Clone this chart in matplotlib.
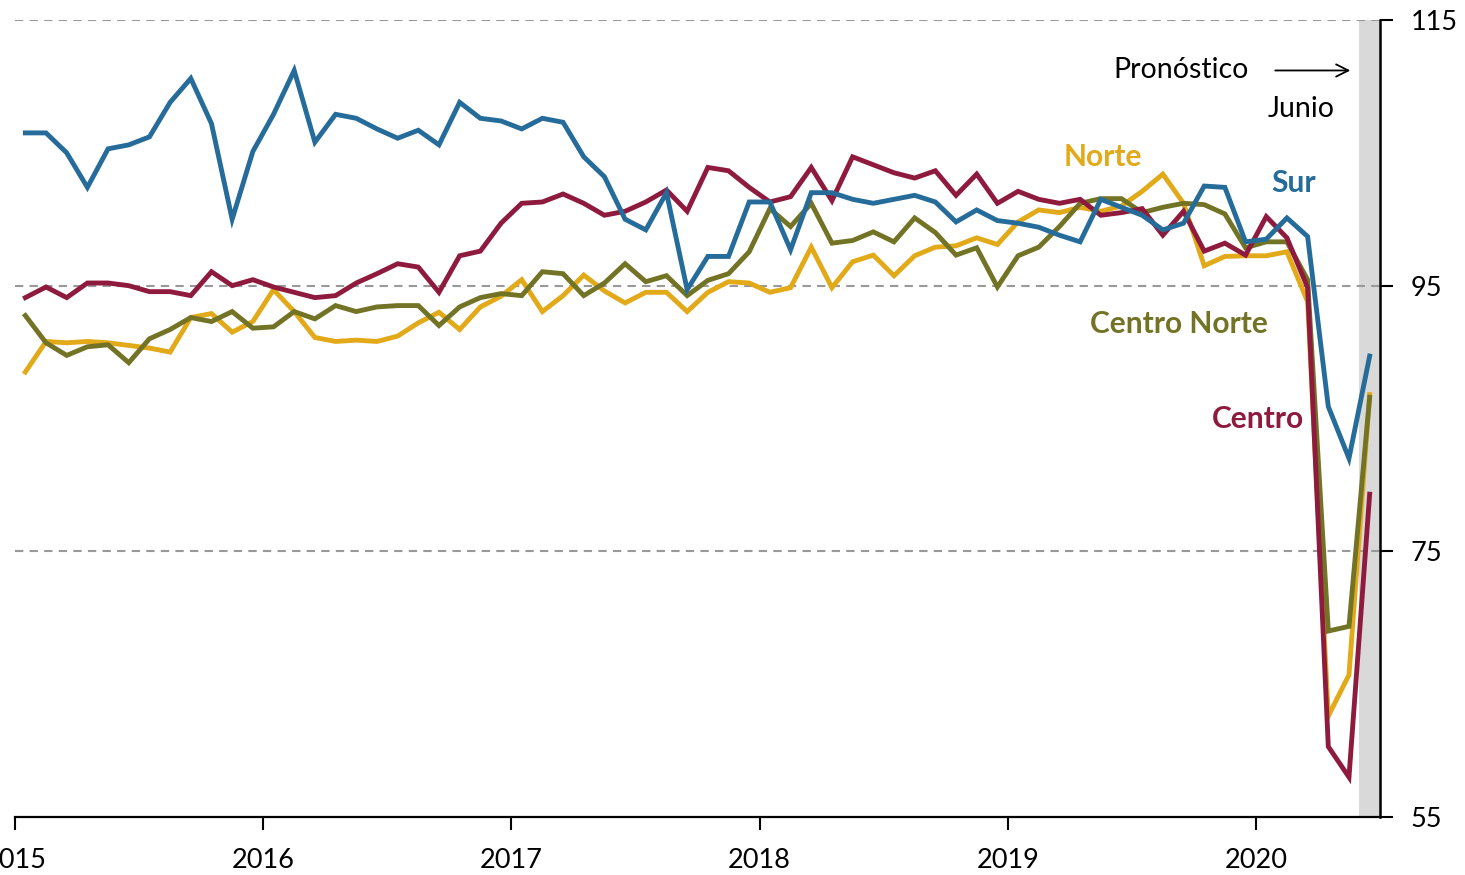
import numpy as np
import matplotlib
matplotlib.use("Agg")
import matplotlib.pyplot as plt

# ---- data (monthly index, Jan 2015 - Jun 2020) ----
years = ['2015', '2016', '2017', '2018', '2019', '2020']

sur = [106.5, 106.5, 105.0, 102.4, 105.3, 105.6, 106.2, 108.8, 110.6, 107.2, 100.0, 105.1,
       107.9, 111.2, 105.8, 107.9, 107.6, 106.8, 106.1, 106.7, 105.6, 108.8, 107.6, 107.4,
       106.8, 107.6, 107.3, 104.7, 103.2, 100.0, 99.2, 102.0, 94.7, 97.2, 97.2, 101.3,
       101.3, 97.7, 102.0, 102.0, 101.5, 101.2, 101.5, 101.8, 101.3, 99.8, 100.7, 99.9,
       99.7, 99.4, 98.8, 98.3, 101.5, 100.9, 100.3, 99.2, 99.7, 102.5, 102.4, 98.3,
       98.5, 100.1, 98.7, 85.9, 82.0, 89.7]

centro = [94.1, 94.9, 94.1, 95.2, 95.2, 95.0, 94.55, 94.55, 94.25, 96.05, 95.0, 95.45,
          94.9, 94.5, 94.1, 94.25, 95.2, 95.9, 96.65, 96.4, 94.5, 97.25, 97.6, 99.7,
          101.2, 101.3, 101.9, 101.2, 100.3, 100.6, 101.3, 102.2, 100.6, 103.9, 103.65, 102.4,
          101.3, 101.7, 103.9, 101.4, 104.7, 104.1, 103.5, 103.1, 103.65, 101.8, 103.4, 101.2,
          102.1, 101.5, 101.2, 101.5, 100.3, 100.5, 100.8, 98.8, 100.6, 97.6, 98.2, 97.3,
          100.2, 98.6, 94.85, 60.3, 58.0, 79.3]

norte = [88.5, 90.8, 90.7, 90.8, 90.7, 90.5, 90.3, 90.0, 92.6, 92.9, 91.5, 92.3,
         94.7, 93.05, 91.1, 90.8, 90.9, 90.8, 91.2, 92.2, 93.0, 91.7, 93.4, 94.2,
         95.45, 93.05, 94.25, 95.8, 94.6, 93.7, 94.5, 94.5, 93.05, 94.5, 95.3, 95.2,
         94.5, 94.85, 97.9, 94.85, 96.8, 97.3, 95.75, 97.25, 97.9, 98.0, 98.6, 98.1,
         99.8, 100.7, 100.5, 100.9, 100.6, 101.0, 102.1, 103.4, 101.2, 96.5, 97.2, 97.25,
         97.25, 97.55, 93.8, 62.6, 65.7, 86.8]

centro_norte = [92.75, 90.7, 89.75, 90.4, 90.55, 89.2, 91.0, 91.7, 92.6, 92.3, 93.05, 91.8,
                91.9, 93.05, 92.5, 93.5, 93.05, 93.4, 93.5, 93.5, 92.0, 93.4, 94.1, 94.4,
                94.25, 96.05, 95.9, 94.25, 95.2, 96.65, 95.3, 95.75, 94.25, 95.4, 95.9, 97.55,
                100.8, 99.45, 101.2, 98.2, 98.4, 99.05, 98.3, 100.1, 99.0, 97.3, 97.85, 94.9,
                97.25, 97.9, 99.45, 101.2, 101.55, 101.55, 100.5, 100.9, 101.2, 101.1, 100.4, 97.85,
                98.3, 98.3, 95.45, 69.0, 69.35, 86.6]

yticks = [55, 75, 95, 115]

# ---- styling ----
plt.rcParams['font.family'] = ['Lato', 'DejaVu Sans']
c_sur = '#266C9A'
c_centro = '#8E1B3D'
c_norte = '#E2A918'
c_cn = '#737326'

fig = plt.figure(figsize=(14.65, 8.75), dpi=100)
ax = fig.add_axes([15 / 1465, 1 - 817 / 875, (1380 - 15) / 1465, (817 - 20) / 875])

n = len(sur)
x = np.arange(n) + 0.5

ax.axvspan(n - 1, n, color='#d9d9d9', zorder=0, lw=0)
for yv in yticks[1:]:
    ax.axhline(yv, color='#999999', lw=1.5, ls=(0, (4, 3)), zorder=1)

lw = 3.5
ax.plot(x, norte, color=c_norte, lw=lw, zorder=3, solid_joinstyle='miter')
ax.plot(x, centro_norte, color=c_cn, lw=lw, zorder=4, solid_joinstyle='miter')
ax.plot(x, centro, color=c_centro, lw=lw, zorder=5, solid_joinstyle='miter')
ax.plot(x, sur, color=c_sur, lw=lw, zorder=6, solid_joinstyle='miter')

ax.set_xlim(0, n)
ax.set_ylim(55, 115)

ax.set_xticks(np.arange(0, n, 12))
ax.set_xticklabels(years)
ax.yaxis.tick_right()
ax.set_yticks(yticks)
ax.set_yticklabels([str(v) for v in yticks])

ax.tick_params(axis='x', direction='out', length=9, width=1.5, pad=13, labelsize=19.5, color='black')
ax.tick_params(axis='y', direction='out', length=9, width=1.5, pad=13, labelsize=19.5, color='black')

for s in ['left', 'top']:
    ax.spines[s].set_visible(False)
ax.spines['bottom'].set_linewidth(1.6)
ax.spines['right'].set_linewidth(1.8)

fs = 21.5
ax.text(52.6, 104.7, 'Norte', color=c_norte, fontsize=fs, fontweight='bold', ha='center', va='center')
ax.text(61.8, 102.7, 'Sur', color=c_sur, fontsize=fs, fontweight='bold', ha='center', va='center')
ax.text(56.3, 92.1, 'Centro Norte', color=c_cn, fontsize=fs, fontweight='bold', ha='center', va='center')
ax.text(60.1, 85.0, 'Centro', color=c_centro, fontsize=fs, fontweight='bold', ha='center', va='center')
ax.text(56.4, 111.2, 'Pronóstico', color='black', fontsize=20.5, ha='center', va='center')
ax.text(62.2, 108.3, 'Junio', color='black', fontsize=20.5, ha='center', va='center')
ax.annotate('', xy=(64.7, 111.2), xytext=(60.8, 111.2),
            arrowprops=dict(arrowstyle='->', color='black', lw=1.3, mutation_scale=22))

fig.savefig('out.png', dpi=100)
